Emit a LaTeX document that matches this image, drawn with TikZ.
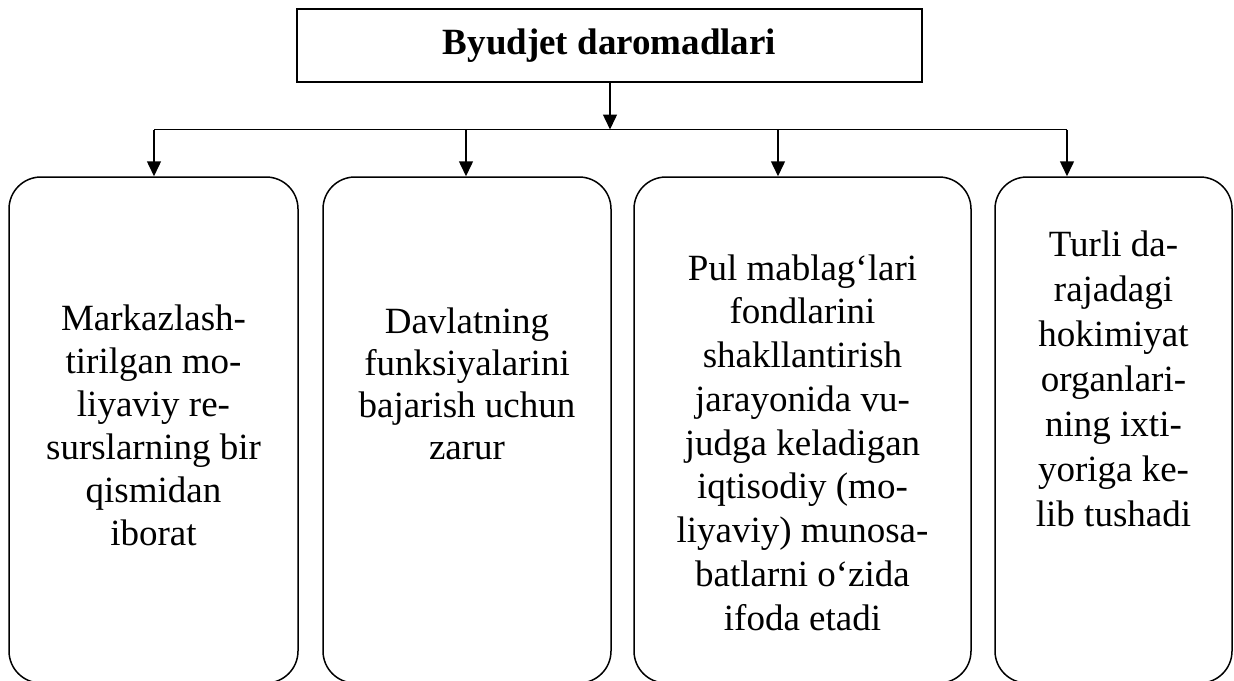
\documentclass[tikz,border=0pt]{standalone}
\usepackage{fontspec}
\setmainfont{Liberation Serif}
\usetikzlibrary{arrows.meta}
\tikzset{
  topbox/.style={draw, line width=2pt, minimum width=625pt, minimum height=73pt, inner sep=0pt,
    font=\fontsize{37}{43}\selectfont\bfseries},
  roundbox/.style={draw, line width=1.5pt, rounded corners=32pt, minimum height=506pt, inner sep=0pt},
  bodytext/.style={align=center, inner sep=0pt, anchor=north},
  arr/.style={line width=1.5pt, -{Triangle[length=15pt,width=14pt]}},
  busline/.style={line width=1.5pt}
}
\begin{document}
\begin{tikzpicture}[x=1pt, y=-1pt]
\useasboundingbox (0,0) rectangle (1234,680);
% top box
\node[topbox] (top) at (609.5,45.5) {Byudjet daromadlari};
% lower boxes
\node[roundbox, minimum width=289pt] (b1) at (153.5,430) {};
\node[roundbox, minimum width=288pt] (b2) at (467,430) {};
\node[roundbox, minimum width=337pt] (b3) at (802.5,430) {};
\node[roundbox, minimum width=237pt] (b4) at (1113.5,430) {};
% texts
\node[bodytext, font=\fontsize{37}{43}\selectfont] (t1) at (153.5,299.9)
  {\strut Markazlash-\\tirilgan mo-\\liyaviy re-\\surslarning bir\\qismidan\\iborat};
\node[bodytext, font=\fontsize{37}{42}\selectfont] (t2) at (467,303.6)
  {\strut Davlatning\\funksiyalarini\\bajarish uchun\\zarur};
\node[bodytext, font=\fontsize{37}{43.75}\selectfont] (t3) at (802.5,249.4)
  {\strut Pul mablag‘lari\\fondlarini\\shakllantirish\\jarayonida vu-\\judga keladigan\\iqtisodiy (mo-\\liyaviy) munosa-\\batlarni o‘zida\\ifoda etadi};
\node[bodytext, font=\fontsize{37}{44.9}\selectfont] (t4) at (1113.5,225.3)
  {\strut Turli da-\\rajadagi\\hokimiyat\\organlari-\\ning ixti-\\yoriga ke-\\lib tushadi};
% bus
\coordinate (hub) at (610,129.5);
\coordinate (bus1) at (154,129.5);
\coordinate (bus2) at (466,129.5);
\coordinate (bus3) at (778,129.5);
\coordinate (bus4) at (1067,129.5);
\draw[arr] (top.south -| hub) -- (hub);
\draw[busline] (bus1) -- (bus4);
\draw[arr] (bus1) -- (bus1 |- b1.north);
\draw[arr] (bus2) -- (bus2 |- b2.north);
\draw[arr] (bus3) -- (bus3 |- b3.north);
\draw[arr] (bus4) -- (bus4 |- b4.north);
\end{tikzpicture}
\end{document}
